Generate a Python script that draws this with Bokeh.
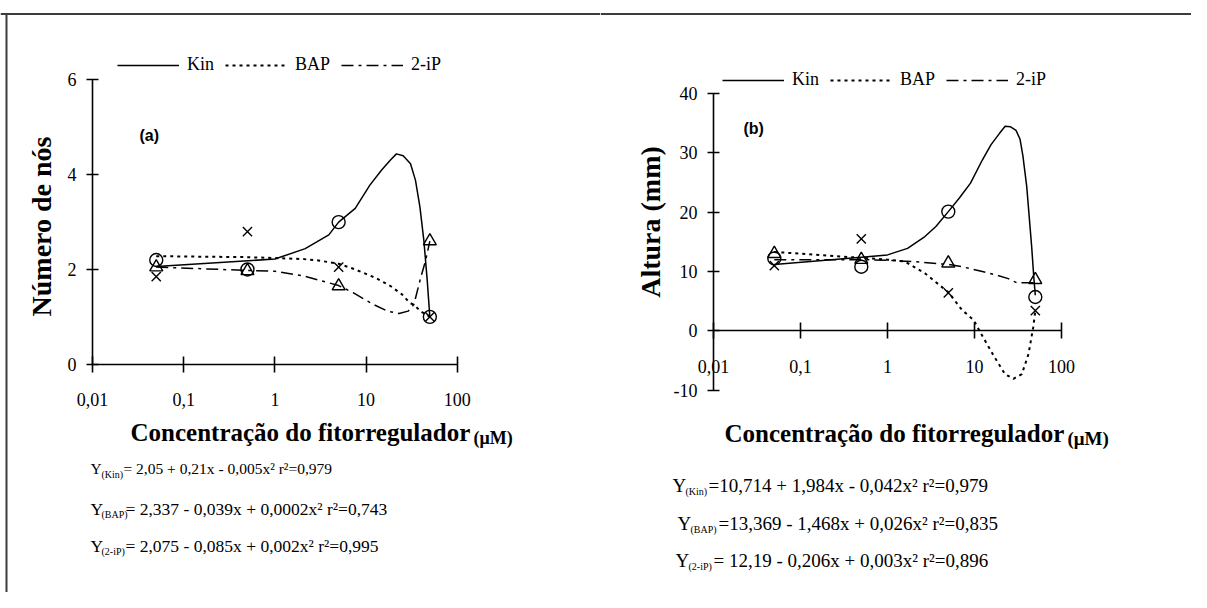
from math import pi
from bokeh.plotting import figure
from bokeh.models import (Range1d, FixedTicker, Label, Legend, LegendItem,
                          CustomJSTickFormatter, Span, Arrow)
from bokeh.layouts import row
from bokeh.embed import file_html
from bokeh.resources import INLINE

# ---------------- data ----------------
doses = [0.05, 0.5, 5, 50]
x_ticks = [0.01, 0.1, 1, 10, 100]
series = ["Kin", "BAP", "2-iP"]

# (a) Número de nós - observed
nos_kin = [2.2, 2.0, 3.0, 1.0]
nos_bap = [1.85, 2.8, 2.05, 1.0]
nos_2ip = [2.05, 1.97, 1.65, 2.6]
nos_ticks = [0, 2, 4, 6]

# (a) trend curves
nos_kin_cx = [0.05, 1, 2.15, 3.9, 5, 7.6, 11, 14.8, 18.5, 21.5, 25.5, 30.7, 34.8, 38.9, 43, 46.8, 50]
nos_kin_cy = [2.06, 2.22, 2.44, 2.73, 3.0, 3.29, 3.78, 4.1, 4.31, 4.44, 4.4, 4.23, 3.88, 3.32, 2.61, 1.77, 1.0]
nos_bap_cx = [0.05, 0.5, 1, 2, 3, 5, 7.6, 12.8, 18.5, 24.9, 29.9, 33.4, 41, 50]
nos_bap_cy = [2.28, 2.26, 2.24, 2.22, 2.19, 2.12, 2.0, 1.82, 1.65, 1.47, 1.3, 1.25, 1.1, 1.0]
nos_2ip_cx = [0.05, 0.5, 1, 2, 5, 7.2, 11.8, 17.2, 23, 28.9, 33.4, 39, 44.9, 50]
nos_2ip_cy = [2.05, 1.98, 1.96, 1.87, 1.66, 1.51, 1.27, 1.12, 1.07, 1.12, 1.26, 1.77, 2.19, 2.6]

# (b) Altura (mm) - observed
alt_kin = [12.2, 10.8, 20.1, 5.7]
alt_bap = [11.0, 15.5, 6.4, 3.4]
alt_2ip = [13.0, 12.0, 11.4, 8.6]
alt_ticks = [-10, 0, 10, 20, 30, 40]

# (b) trend curves
alt_kin_cx = [0.05, 0.5, 1, 1.7, 2.69, 3.6, 5, 6.7, 9.0, 12.3, 15.5, 19.4, 22.5, 26, 30, 33.4, 36, 39.8, 45.4, 48, 50]
alt_kin_cy = [11.2, 12.4, 12.8, 13.9, 15.9, 17.6, 20.1, 22.4, 24.9, 28.8, 31.4, 33.3, 34.5, 34.4, 33.8, 32.3, 29.5, 24.4, 14.2, 9.1, 6.0]
alt_bap_cx = [0.05, 0.5, 1, 1.58, 2.69, 5, 7.2, 9.8, 11.8, 16.6, 22.4, 28, 35, 41.8, 47.3, 50]
alt_bap_cy = [13.3, 12.3, 12.0, 11.7, 9.7, 6.5, 3.5, 1.8, -0.4, -4.2, -7.3, -8.1, -7.3, -3.9, 0.6, 3.4]
alt_2ip_cx = [0.05, 0.5, 1, 2.3, 3.9, 5, 7.2, 12.3, 18, 24.4, 30.5, 50]
alt_2ip_cy = [12.0, 12.0, 11.9, 11.6, 11.3, 11.2, 10.8, 10.0, 9.4, 8.8, 8.1, 8.1]

eq_a = [("(Kin)", "= 2,05 + 0,21x - 0,005x² r²=0,979"),
        ("(BAP)", "= 2,337 - 0,039x + 0,0002x² r²=0,743"),
        ("(2-iP)", "= 2,075 - 0,085x + 0,002x² r²=0,995")]
eq_b = [("(Kin)", "=10,714 + 1,984x - 0,042x² r²=0,979"),
        ("(BAP)", "=13,369 - 1,468x + 0,026x² r²=0,835"),
        ("(2-iP)", "= 12,19 - 0,206x + 0,003x² r²=0,896")]

SERIF = "Liberation Serif"
SANS = "Liberation Sans"
DASH_DOT = "12 5 3 5"
DOT = "3 4"
FIG_H = 592          # figure height in pixels (figures start at the picture's top-left)
BORDER_Y = 13.5      # picture y of the outer frame's top edge
BORDER_X = 6         # picture x of the outer frame's left edge
BORDER_COLOR = "#3c3c3c"


def lab(p, ox, px, py, text, size, bold=False, font=SERIF, align="left", angle=0.0):
    """Place a text at picture pixel (px, py); figure left edge at picture x = ox."""
    p.add_layout(Label(x=px - ox, y=FIG_H - py, x_units="screen", y_units="screen",
                       text=text, text_font=font, text_font_size=f"{size}px",
                       text_font_style="bold" if bold else "normal",
                       text_align=align, text_baseline="middle", angle=angle,
                       text_color="black"))


def panel(ox, width, xgeom, ygeom, yb, yticks, obs, curves):
    # xgeom: (picture x of 0.01, px per decade); ygeom: (picture y of 0, px per unit)
    x0, dec = xgeom
    y0, ppu = ygeom
    xr = Range1d(10 ** (-2 + (ox - x0) / dec), 10 ** (-2 + (ox + width - x0) / dec))
    yr = Range1d((y0 - FIG_H) / ppu, y0 / ppu)
    p = figure(x_axis_type="log", x_range=xr, y_range=yr, title=None,
               width=width, height=FIG_H, min_border=0,
               output_backend="svg", toolbar_location=None)
    p.grid.visible = False
    p.outline_line_color = None
    for ax in (p.xaxis[0], p.yaxis[0]):
        ax.axis_line_width = 1.6
        ax.major_tick_line_width = 1.6
        ax.minor_tick_line_color = None
        ax.major_label_text_font = SERIF
        ax.major_label_text_font_size = "18px"
        ax.major_label_text_color = "black"
        ax.axis_line_color = "black"
        ax.major_tick_line_color = "black"
    xa = p.xaxis[0]
    xa.ticker = FixedTicker(ticks=x_ticks)
    xa.formatter = CustomJSTickFormatter(code="return String(tick).replace('.', ',');")
    xa.major_tick_in = 8
    xa.major_tick_out = 8
    xa.major_label_standoff = 21
    xa.fixed_location = 0
    xa.bounds = (0.01, 100)
    ya = p.yaxis[0]
    ya.ticker = FixedTicker(ticks=yticks)
    ya.formatter = CustomJSTickFormatter(code="return String(tick);")
    ya.major_tick_in = 6
    ya.major_tick_out = 6
    ya.major_label_standoff = 10
    ya.fixed_location = 0.01
    ya.bounds = yb

    (kx, ky), (bx, by), (ix, iy) = curves
    r_kin = p.line(kx, ky, line_color="black", line_width=1.5)
    r_bap = p.line(bx, by, line_color="black", line_width=2, line_dash=DOT)
    r_2ip = p.line(ix, iy, line_color="black", line_width=1.5, line_dash=DASH_DOT)
    k, b, i = obs
    mk = dict(size=13, fill_color=None, line_color="black", line_width=1.4)
    p.scatter(doses, k, marker="circle", **mk)
    p.scatter(doses, b, marker="x", **mk)
    p.scatter(doses, i, marker="triangle", **mk)
    items = [LegendItem(label=s, renderers=[r]) for s, r in zip(series, [r_kin, r_bap, r_2ip])]
    # top edge of the outer frame
    p.add_layout(Span(location=(y0 - BORDER_Y) / ppu, dimension="width",
                      line_color=BORDER_COLOR, line_width=2))
    return p, items


# ---------- panel (a) ----------
OXA, WA = 0, 600
XGA, YGA = (92, 91.2), (363.7, 47.37)
pa, items_a = panel(OXA, WA, XGA, YGA, (0, 6), nos_ticks,
                    (nos_kin, nos_bap, nos_2ip),
                    ((nos_kin_cx, nos_kin_cy), (nos_bap_cx, nos_bap_cy), (nos_2ip_cx, nos_2ip_cy)))
# left edge of the outer frame (from the top edge downwards)
bx_data = 10 ** (-2 + (BORDER_X - XGA[0]) / XGA[1])
pa.add_layout(Arrow(x_start=bx_data, y_start=(YGA[0] - BORDER_Y + 1) / YGA[1],
                    x_end=bx_data, y_end=(YGA[0] - FIG_H - 10) / YGA[1],
                    start=None, end=None, line_color=BORDER_COLOR, line_width=2))
lab(pa, OXA, 139, 135, "(a)", 16, bold=True, font=SANS)
lab(pa, OXA, 41, 226, "Número de nós", 28, bold=True, align="center", angle=pi / 2)
lab(pa, OXA, 130, 432, "Concentração do fitorregulador", 25, bold=True)
lab(pa, OXA, 473, 437, "(μM)", 18, bold=True)
for (sub, rest), yy, sz, xr in zip(eq_a, [468, 508, 545], [15.5, 17.5, 17.5], [123, 125, 125]):
    lab(pa, OXA, 90, yy, "Y", sz)
    lab(pa, OXA, 101, yy + 6, sub, 10)
    lab(pa, OXA, xr, yy, rest, sz)
leg_a = Legend(items=items_a, orientation="horizontal", location=(117 - OXA, FIG_H - 75))

# ---------- panel (b) ----------
OXB, WB = 600, 591
XGB, YGB = (713, 87.0), (330.3, 5.93)
pb, items_b = panel(OXB, WB, XGB, YGB, (-10, 40), alt_ticks,
                    (alt_kin, alt_bap, alt_2ip),
                    ((alt_kin_cx, alt_kin_cy), (alt_bap_cx, alt_bap_cy), (alt_2ip_cx, alt_2ip_cy)))
lab(pb, OXB, 743, 128, "(b)", 16, bold=True, font=SANS)
lab(pb, OXB, 650, 218, "Altura  (mm)", 28, bold=True, align="center", angle=pi / 2)
lab(pb, OXB, 724, 433, "Concentração do fitorregulador", 25, bold=True)
lab(pb, OXB, 1067, 438, "(μM)", 19, bold=True)
for (sub, rest), yy, xy, xs, xr in zip(eq_b, [485, 523, 560], [672, 677, 675], [685, 690, 688], [708, 718, 713]):
    lab(pb, OXB, xy, yy, "Y", 19)
    lab(pb, OXB, xs, yy + 6, sub, 10)
    lab(pb, OXB, xr, yy, rest, 19)
leg_b = Legend(items=items_b, orientation="horizontal", location=(722 - OXB, FIG_H - 90))

for p, lg in ((pa, leg_a), (pb, leg_b)):
    lg.glyph_width = 62
    lg.glyph_height = 20
    lg.label_height = 20
    lg.label_standoff = 8
    lg.spacing = 11
    lg.padding = 0
    lg.margin = 0
    lg.border_line_color = None
    lg.background_fill_alpha = 0
    lg.label_text_font = SERIF
    lg.label_text_font_size = "18px"
    lg.label_text_color = "black"
    p.add_layout(lg)

layout = row(pa, pb)

open("out.html", "w").write(file_html(layout, INLINE))
